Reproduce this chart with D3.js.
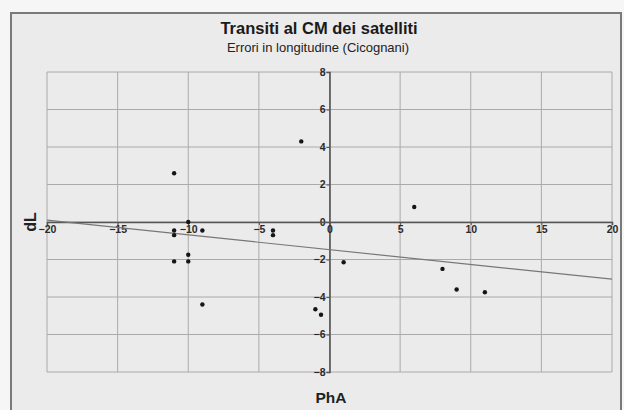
<!DOCTYPE html>
<html>
<head>
<meta charset="utf-8">
<script src="https://cdn.jsdelivr.net/npm/d3@7"></script>
<style>
  body { margin: 0; background: #f6f6f6; }
  svg { display: block; font-family: "Liberation Sans", Arial, sans-serif; }
</style>
</head>
<body>
<div id="chart"></div>
<script>
// data
const phA = [-11, -2, 6, -10, -11, -11, -9, -4, -4, -11, -10, -10, -9, -1, -0.6, 1, 8, 9, 11]
const dL = [2.6, 4.3, 0.8, 0, -0.45, -0.7, -0.45, -0.45, -0.7, -2.1, -1.75, -2.1, -4.4, -4.65, -4.95, -2.15, -2.5, -3.6, -3.75]
const trendX = [-20, 20]
const trendY = [0.1, -3.05]
const xTicks = [-20, -15, -10, -5, 0, 5, 10, 15, 20]
const yTicks = [-8, -6, -4, -2, 0, 2, 4, 6, 8]

const width = 624
const height = 410

const svg = d3.select('#chart').append('svg')
  .attr('width', width)
  .attr('height', height)

// chart frame
svg.append('rect')
  .attr('x', 11).attr('y', 13)
  .attr('width', 610).attr('height', 400)
  .attr('fill', '#ebebeb')
  .attr('stroke', '#7a7a7a')
  .attr('stroke-width', 2)

const x = d3.scaleLinear().domain([-20, 20]).range([47, 612])
const y = d3.scaleLinear().domain([-8, 8]).range([372, 72])

// grid
const grid = svg.append('g').attr('stroke', '#aaa').attr('stroke-width', 1)
grid.selectAll('.v').data(xTicks).enter().append('line')
  .attr('x1', d => x(d)).attr('x2', d => x(d))
  .attr('y1', y(8)).attr('y2', y(-8))
grid.selectAll('.h').data(yTicks).enter().append('line')
  .attr('x1', x(-20)).attr('x2', x(20))
  .attr('y1', d => y(d)).attr('y2', d => y(d))

// axes crossing at the origin
const yAxis = svg.append('g')
  .attr('transform', `translate(${x(0)},0)`)
  .call(d3.axisLeft(y).tickValues(yTicks).tickSize(3).tickPadding(1))
const xAxis = svg.append('g')
  .attr('transform', `translate(0,${y(0)})`)
  .call(d3.axisBottom(x).tickValues(xTicks).tickSize(3).tickPadding(1))

;[xAxis, yAxis].forEach(a => {
  a.select('.domain').attr('stroke', '#555').attr('stroke-width', 1.6)
  a.selectAll('.tick line').attr('stroke', '#555')
  a.selectAll('text')
    .attr('fill', '#2a2a2a')
    .style('font-size', '10.5px')
    .style('font-weight', 'bold')
    .style('font-family', '"Liberation Sans", Arial, sans-serif')
})

// trend line
svg.append('line')
  .attr('x1', x(trendX[0])).attr('y1', y(trendY[0]))
  .attr('x2', x(trendX[1])).attr('y2', y(trendY[1]))
  .attr('stroke', '#777')
  .attr('stroke-width', 1.2)

// points
svg.selectAll('.pt').data(phA).enter().append('circle')
  .attr('cx', d => x(d))
  .attr('cy', (d, i) => y(dL[i]))
  .attr('r', 2.2)
  .attr('fill', '#151515')

// titles
svg.append('text')
  .attr('x', 319).attr('y', 34)
  .attr('text-anchor', 'middle')
  .style('font-size', '16.5px')
  .style('font-weight', 'bold')
  .attr('fill', '#1a1a1a')
  .text('Transiti al CM dei satelliti')

svg.append('text')
  .attr('x', 318).attr('y', 52)
  .attr('text-anchor', 'middle')
  .style('font-size', '13px')
  .attr('fill', '#222')
  .text('Errori in longitudine (Cicognani)')

svg.append('text')
  .attr('transform', 'translate(36,222) rotate(-90)')
  .attr('text-anchor', 'middle')
  .style('font-size', '16px')
  .style('font-weight', 'bold')
  .attr('fill', '#222')
  .text('dL')

svg.append('text')
  .attr('x', 331).attr('y', 403)
  .attr('text-anchor', 'middle')
  .style('font-size', '15.5px')
  .style('font-weight', 'bold')
  .attr('fill', '#222')
  .text('PhA')
</script>
</body>
</html>
